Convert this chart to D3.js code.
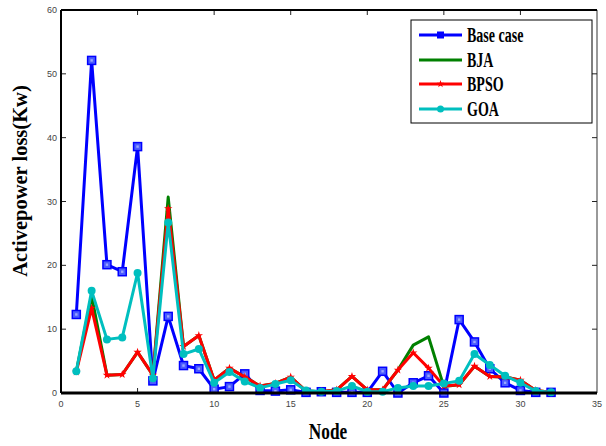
<!DOCTYPE html>
<html>
<head>
<meta charset="utf-8">
<script src="https://cdn.jsdelivr.net/npm/d3@7"></script>
<style>
  html, body { margin: 0; padding: 0; background: #fff; }
  svg { display: block; }
</style>
</head>
<body>
<svg id="chart" width="606" height="446"></svg>
<script>
// Active power loss per node for each method
const nodes = d3.range(1, 33);
const baseCase = [12.3, 52.1, 20.1, 19.0, 38.6, 1.9, 12.0, 4.3, 3.8, 0.6, 1.0, 3.0, 0.4, 0.3, 0.5, 0.1,
                  0.2, 0.1, 0.1, 0.1, 3.4, 0.0, 1.6, 2.7, 0.0, 11.5, 8.0, 3.8, 1.6, 0.4, 0.1, 0.1];
const bja      = [3.4, 15.2, 2.8, 2.9, 6.4, 2.8, 30.7, 7.3, 9.0, 2.0, 3.9, 2.5, 1.1, 1.5, 2.5, 0.3,
                  0.2, 0.5, 2.6, 0.5, 0.5, 3.6, 7.5, 8.8, 1.0, 1.3, 4.2, 2.6, 2.5, 2.0, 0.4, 0.1];
const bpso     = [3.3, 13.3, 2.8, 2.9, 6.4, 2.8, 28.9, 7.3, 9.0, 2.0, 3.9, 2.5, 1.1, 1.5, 2.5, 0.3,
                  0.2, 0.5, 2.6, 0.5, 0.5, 3.6, 6.3, 3.9, 1.1, 1.3, 4.2, 2.6, 2.5, 2.0, 0.4, 0.1];
const goa      = [3.4, 16.0, 8.4, 8.7, 18.8, 2.3, 26.7, 6.1, 6.9, 1.6, 3.3, 1.8, 0.8, 1.4, 2.0, 0.4,
                  0.2, 0.3, 1.1, 0.2, 0.2, 0.8, 1.1, 1.1, 1.5, 1.9, 6.1, 4.4, 2.7, 1.6, 0.3, 0.1];

const seriesNames = ["Base case", "BJA", "BPSO", "GOA"];
const seriesValues = [baseCase, bja, bpso, goa];
const seriesColors = ["#0000ff", "#008000", "#ff0000", "#00bfbf"];
const seriesMarkers = ["square", "none", "star", "circle"];

const xTicks = [0, 5, 10, 15, 20, 25, 30, 35];
const yTicks = [0, 10, 20, 30, 40, 50, 60];

const svg = d3.select("#chart");
const plotLeft = 61, plotRight = 597, plotTop = 10, plotBottom = 393;

const x = d3.scaleLinear().domain([0, 35]).range([plotLeft, plotRight]);
const y = d3.scaleLinear().domain([0, 60]).range([plotBottom, plotTop]);

// frame: thin grey right edge, heavy black bottom/top/left
svg.append("line").attr("x1", plotRight).attr("x2", plotRight).attr("y1", plotTop).attr("y2", plotBottom)
  .attr("stroke", "#555").attr("stroke-width", 1.2);

// ticks on all four sides, pointing inward
const tickLen = 5;
xTicks.slice(1, -1).forEach(t => {
  svg.append("line").attr("x1", x(t)).attr("x2", x(t)).attr("y1", plotBottom).attr("y2", plotBottom - tickLen)
    .attr("stroke", "#222").attr("stroke-width", 1);
  svg.append("line").attr("x1", x(t)).attr("x2", x(t)).attr("y1", plotTop).attr("y2", plotTop + tickLen)
    .attr("stroke", "#222").attr("stroke-width", 1);
});
yTicks.slice(1, -1).forEach(t => {
  svg.append("line").attr("x1", plotLeft).attr("x2", plotLeft + tickLen).attr("y1", y(t)).attr("y2", y(t))
    .attr("stroke", "#222").attr("stroke-width", 1);
  svg.append("line").attr("x1", plotRight).attr("x2", plotRight - tickLen).attr("y1", y(t)).attr("y2", y(t))
    .attr("stroke", "#222").attr("stroke-width", 1);
});

// tick labels
const tickFont = "'Liberation Sans Narrow', 'Liberation Sans', Arial, sans-serif";
xTicks.forEach(t => {
  svg.append("text").attr("x", x(t)).attr("y", plotBottom + 14)
    .attr("text-anchor", "middle").attr("font-family", tickFont).attr("font-size", 9)
    .attr("fill", "#444").text(t);
});
yTicks.forEach(t => {
  svg.append("text").attr("x", plotLeft - 4).attr("y", y(t) + 3)
    .attr("text-anchor", "end").attr("font-family", tickFont).attr("font-size", 9)
    .attr("fill", "#444").text(t);
});

// series lines and markers
const line = d3.line().x((d, i) => x(nodes[i])).y(d => y(d));
const plot = svg.append("g");
seriesValues.forEach((vals, s) => {
  const g = plot.append("g");
  g.append("path").datum(vals).attr("d", line)
    .attr("fill", "none").attr("stroke", seriesColors[s]).attr("stroke-width", 3)
    .attr("stroke-linejoin", "round");
  drawMarkers(g, vals, seriesMarkers[s], seriesColors[s]);
});

function drawMarkers(g, vals, kind, color) {
  if (kind === "none") return;
  vals.forEach((v, i) => {
    drawMarker(g, x(nodes[i]), y(v), kind, color);
  });
}

function drawMarker(g, cx, cy, kind, color) {
  if (kind === "square") {
    g.append("rect").attr("x", cx - 4).attr("y", cy - 4).attr("width", 8).attr("height", 8)
      .attr("fill", "#4b5cff").attr("stroke", color).attr("stroke-width", 1.5);
    g.append("rect").attr("x", cx - 1.2).attr("y", cy - 1.2).attr("width", 2.4).attr("height", 2.4)
      .attr("fill", "#9aa6ff");
  } else if (kind === "circle") {
    g.append("circle").attr("cx", cx).attr("cy", cy).attr("r", 4).attr("fill", color);
  } else if (kind === "star") {
    g.append("path").attr("d", d3.symbol(d3.symbolStar, 22)())
      .attr("transform", `translate(${cx},${cy})`).attr("fill", color);
  }
}

// heavy axis lines drawn over the data
svg.append("line").attr("x1", plotLeft).attr("x2", plotRight).attr("y1", plotBottom).attr("y2", plotBottom)
  .attr("stroke", "#000").attr("stroke-width", 3);
svg.append("line").attr("x1", plotLeft).attr("x2", plotRight).attr("y1", plotTop).attr("y2", plotTop)
  .attr("stroke", "#000").attr("stroke-width", 2);
svg.append("line").attr("x1", plotLeft).attr("x2", plotLeft).attr("y1", plotTop).attr("y2", plotBottom)
  .attr("stroke", "#000").attr("stroke-width", 2);

// legend
const lg = svg.append("g");
lg.append("rect").attr("x", 411).attr("y", 20).attr("width", 181).attr("height", 103)
  .attr("fill", "#fff").attr("stroke", "#000").attr("stroke-width", 1);
const legendRows = [35, 60, 84, 109];
const serif = "'Liberation Serif', 'Times New Roman', serif";
seriesNames.forEach((name, s) => {
  const ly = legendRows[s];
  lg.append("line").attr("x1", 419).attr("x2", 462).attr("y1", ly).attr("y2", ly)
    .attr("stroke", seriesColors[s]).attr("stroke-width", 3);
  if (seriesMarkers[s] === "circle") {
    lg.append("circle").attr("cx", 440.5).attr("cy", ly).attr("r", 3.5).attr("fill", seriesColors[s]);
  } else if (seriesMarkers[s] === "square") {
    lg.append("rect").attr("x", 437).attr("y", ly - 3.5).attr("width", 7).attr("height", 7)
      .attr("fill", seriesColors[s]);
  } else if (seriesMarkers[s] === "star") {
    lg.append("path").attr("d", d3.symbol(d3.symbolStar, 18)())
      .attr("transform", `translate(440.5,${ly})`).attr("fill", seriesColors[s]);
  }
  lg.append("text").attr("transform", `translate(467,${ly + 7}) scale(0.7,1)`)
    .attr("font-family", serif).attr("font-weight", "bold").attr("font-size", 20)
    .attr("fill", "#000").text(name);
});

// axis titles
svg.append("text").attr("transform", "translate(328,439) scale(0.72,1)")
  .attr("text-anchor", "middle").attr("font-family", serif).attr("font-weight", "bold")
  .attr("font-size", 24).attr("fill", "#000").text("Node");
svg.append("text").attr("transform", "translate(27,181) rotate(-90)")
  .attr("text-anchor", "middle").attr("font-family", serif).attr("font-weight", "bold")
  .attr("font-size", 20.5).attr("fill", "#000").text("Activepower loss(Kw)");
</script>
</body>
</html>
